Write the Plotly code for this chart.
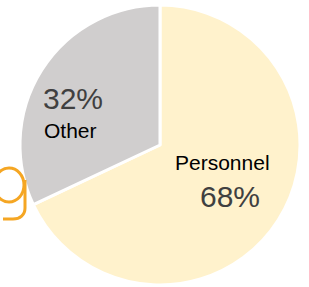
import plotly.graph_objects as go

labels = ["Personnel", "Other"]
values = [68, 32]
colors = ["#FFF2CC", "#D0CECE"]

W, H = 309, 287
total = sum(values)
pct = [f"{round(v * 100 / total)}%" for v in values]

fig = go.Figure(go.Pie(
    labels=labels,
    values=values,
    sort=False,
    direction="clockwise",
    rotation=0,
    marker=dict(colors=colors, line=dict(color="white", width=3)),
    textinfo="none",
    hoverinfo="label+percent",
    showlegend=False,
    domain=dict(x=[20 / W, 300 / W], y=[2 / H, 282 / H]),
))

font_family = "Liberation Sans, Arial, sans-serif"
ann = [
    dict(text=labels[0], x=222 / W, y=1 - 162 / H, font=dict(size=21, color="#000000")),
    dict(text=pct[0], x=230 / W, y=1 - 196 / H, font=dict(size=30, color="#404040")),
    dict(text=pct[1], x=73 / W, y=1 - 98 / H, font=dict(size=30, color="#404040")),
    dict(text=labels[1], x=70 / W, y=1 - 130 / H, font=dict(size=21, color="#000000")),
]
annotations = []
for a in ann:
    d = dict(xref="paper", yref="paper", showarrow=False, xanchor="center", yanchor="middle")
    d.update(a)
    f = dict(family=font_family)
    f.update(a["font"])
    d["font"] = f
    annotations.append(d)


# decorative logo fragment (orange "g" cut at the left edge), pixel -> paper
def px(x, y):
    return f"{x / W:.5f},{1 - y / H:.5f}"


k = 0.5523
cx, cy, rx, ry = 9, 185, 15, 17
bowl = (
    f"M {px(cx, cy - ry)} "
    f"C {px(cx + k * rx, cy - ry)} {px(cx + rx, cy - k * ry)} {px(cx + rx, cy)} "
    f"C {px(cx + rx, cy + k * ry)} {px(cx + k * rx, cy + ry)} {px(cx, cy + ry)} "
    f"C {px(cx - k * rx, cy + ry)} {px(cx - rx, cy + k * ry)} {px(cx - rx, cy)} "
    f"C {px(cx - rx, cy - k * ry)} {px(cx - k * rx, cy - ry)} {px(cx, cy - ry)} Z"
)
stem = (
    f"M {px(25, 180)} L {px(25, 208)} "
    f"C {px(25, 215)} {px(20, 219)} {px(13, 219)} L {px(3, 219)}"
)
shapes = [
    dict(type="path", xref="paper", yref="paper", path=bowl,
         line=dict(color="#F5A623", width=3)),
    dict(type="path", xref="paper", yref="paper", path=stem,
         line=dict(color="#F5A623", width=3)),
]

fig.update_layout(
    width=W, height=H,
    margin=dict(l=0, r=0, t=0, b=0),
    paper_bgcolor="white",
    plot_bgcolor="white",
    annotations=annotations,
    shapes=shapes,
)

fig.write_html("out.html", config={"displayModeBar": False},
               post_script="document.body.style.margin='0';")
